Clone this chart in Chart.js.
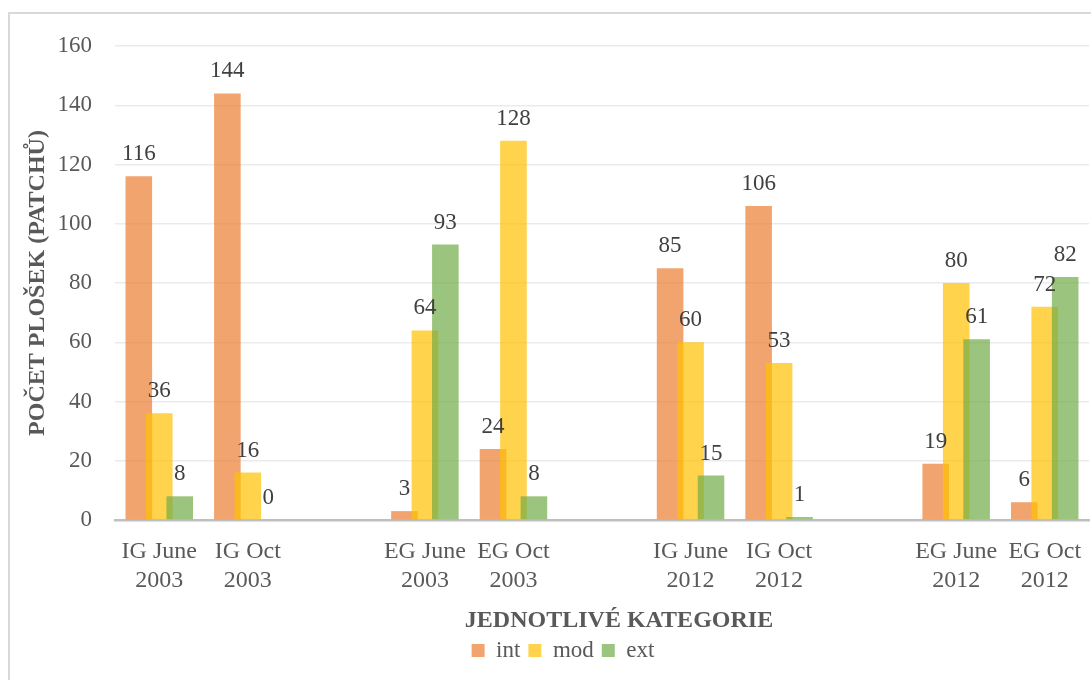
<!DOCTYPE html>
<html>
<head>
<meta charset="utf-8">
<script src="https://cdn.jsdelivr.net/npm/chart.js@4/dist/chart.umd.min.js"></script>
<style>
  html, body { margin: 0; padding: 0; background: #fff; overflow: hidden; }
  #frame { position: absolute; left: 8px; top: 12px; width: 1100px; height: 700px; border: 2px solid #d9d9d9; }
  #chart { position: absolute; left: 0; top: 0; }
</style>
</head>
<body>
<div id="frame"></div>
<canvas id="chart" width="1091" height="680"></canvas>
<script>
// empty categories keep the gaps between the pairs
const categories = [
    ['IG June', '2003'], ['IG Oct', '2003'], '',
    ['EG June', '2003'], ['EG Oct', '2003'], '',
    ['IG June', '2012'], ['IG Oct', '2012'], '',
    ['EG June', '2012'], ['EG Oct', '2012']
];
const intValues = [116, 144, null, 3, 24, null, 85, 106, null, 19, 6];
const modValues = [36, 16, null, 64, 128, null, 60, 53, null, 80, 72];
const extValues = [8, 0, null, 93, 8, null, 15, 1, null, 61, 82];
const yTicks = [0, 20, 40, 60, 80, 100, 120, 140, 160];

const FONT = "'Liberation Serif', 'Times New Roman', serif";
const textColor = '#595959';
const xTitle = 'JEDNOTLIVÉ KATEGORIE';

// draw int first so mod and ext end up on top, like the excel overlap
const drawInOrder = {
    id: 'drawInOrder',
    beforeDatasetsDraw(chart) {
        chart.data.datasets.forEach((ds, i) => {
            const meta = chart.getDatasetMeta(i);
            if (meta.visible !== false) meta.controller.draw();
        });
        return false;
    }
};

const valueLabels = {
    id: 'valueLabels',
    afterDraw(chart) {
        const ctx = chart.ctx;
        ctx.save();
        ctx.font = '23px ' + FONT;
        ctx.fillStyle = '#404040';
        ctx.textAlign = 'center';
        ctx.textBaseline = 'middle';
        chart.data.datasets.forEach((ds, i) => {
            chart.getDatasetMeta(i).data.forEach((bar, j) => {
                const v = ds.data[j];
                if (v === null) return;
                ctx.fillText(String(v), bar.x, bar.y - 22);
            });
        });
        // x title sits a bit right of the plot centre in the original
        const x = chart.scales.x;
        ctx.font = 'bold 24px ' + FONT;
        ctx.fillStyle = textColor;
        ctx.fillText(xTitle, (x.left + x.right) / 2 + 17, x.top + 101);
        ctx.restore();
    }
};

new Chart(document.getElementById('chart').getContext('2d'), {
    type: 'bar',
    data: {
        labels: categories,
        datasets: [
            { label: 'int', data: intValues, backgroundColor: 'rgba(237,125,49,0.7)' },
            { label: 'mod', data: modValues, backgroundColor: 'rgba(255,192,0,0.7)' },
            { label: 'ext', data: extValues, backgroundColor: 'rgba(112,173,71,0.7)' }
        ]
    },
    options: {
        responsive: false,
        animation: false,
        layout: { padding: { top: 46, left: 37, right: 2, bottom: 8 } },
        datasets: { bar: { categoryPercentage: 0.693, barPercentage: 1.3 } },
        scales: {
            x: {
                afterFit(scale) { scale.paddingLeft = 0; scale.paddingRight = 0; },
                grid: { display: false, drawTicks: false },
                border: { display: true, color: '#bfbfbf', width: 2.5 },
                ticks: { font: { family: FONT, size: 24, lineHeight: '29px' }, color: textColor, padding: 17, maxRotation: 0, autoSkip: false },
                // only reserves room, the visible title is drawn in valueLabels
                title: { display: true, text: ' ', color: 'rgba(0,0,0,0)', font: { family: FONT, size: 10, lineHeight: '19px' }, padding: 0 }
            },
            y: {
                min: 0,
                max: 160,
                afterFit(scale) { scale.width = 78; },
                afterBuildTicks(scale) { scale.ticks = yTicks.map(v => ({ value: v })); },
                grid: { color: '#ebebeb', lineWidth: 1.5, drawTicks: false },
                border: { display: false },
                ticks: { font: { family: FONT, size: 23 }, color: textColor, padding: 23 },
                title: { display: true, text: 'POČET PLOŠEK (PATCHŮ)', color: textColor, font: { family: FONT, size: 24, weight: 'bold', lineHeight: 1.2 }, padding: { top: -14, bottom: 0 } }
            }
        },
        plugins: {
            legend: {
                position: 'bottom',
                labels: { boxWidth: 13, boxHeight: 13, padding: 8, color: textColor, font: { family: FONT, size: 23 } }
            },
            tooltip: { enabled: false }
        }
    },
    plugins: [drawInOrder, valueLabels]
});
</script>
</body>
</html>
